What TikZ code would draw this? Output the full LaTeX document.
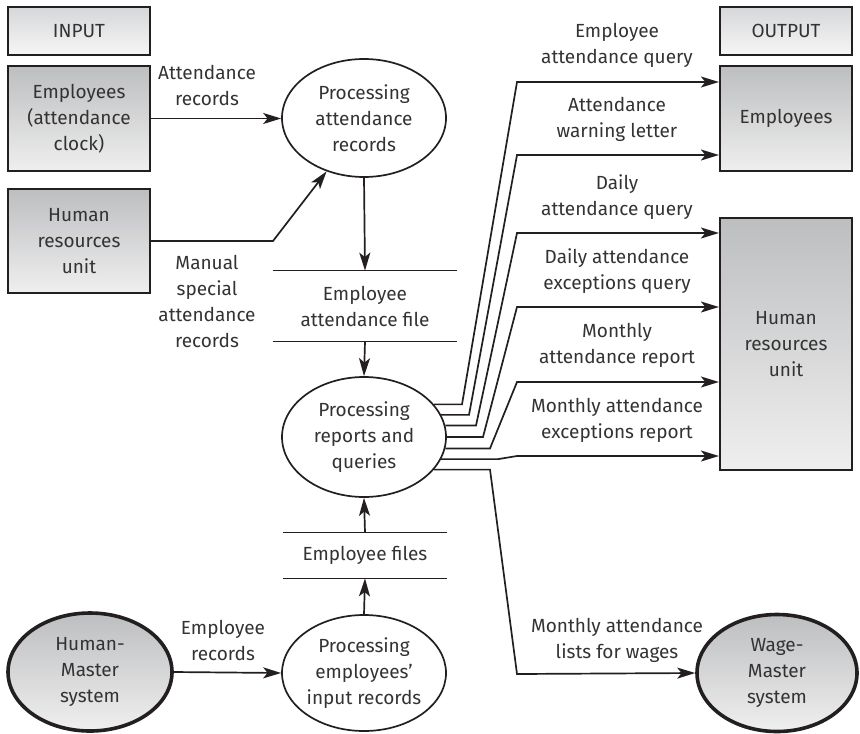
\documentclass[tikz,border=0pt]{standalone}
\usepackage{fontspec}
\setmainfont{Fira Sans}
\usetikzlibrary{arrows.meta, shapes.geometric, calc}
\definecolor{trait}{HTML}{231F20}
\definecolor{texte}{HTML}{333333}
\definecolor{grisfonce}{HTML}{BDBEC0}
\definecolor{grisclair}{HTML}{EFEFEF}
\definecolor{grispale}{HTML}{D6D7D9}
\definecolor{blanccasse}{HTML}{F6F6F6}
\tikzset{
  bloc/.style={rectangle, draw=trait, line width=1.1pt, top color=grisfonce,
    bottom color=grisclair, text=texte, align=center, inner sep=0pt},
  titre/.style={bloc, top color=grispale, bottom color=blanccasse,
    minimum height=24pt},
  processus/.style={ellipse, draw=trait, line width=0.85pt, fill=white,
    text=texte, align=center, inner sep=0pt, minimum width=82pt,
    minimum height=60pt},
  maitre/.style={ellipse, draw=trait, line width=1.8pt, top color=grisfonce,
    bottom color=grisclair, text=texte, align=center, inner sep=0pt,
    minimum width=82pt, minimum height=59pt},
  stock/.style={text=texte, align=center, inner sep=0pt},
  ligne/.style={line width=0.85pt, color=trait},
  fleche/.style={-{Stealth[length=9pt, width=5.5pt, inset=2.2pt]},
    line width=0.85pt, color=trait},
  etiquette/.style={text=texte, align=center, inner sep=0pt}
}

\begin{document}
\begin{tikzpicture}[x=0.5pt, y=-0.5pt, font=\fontsize{9.5}{13}\selectfont]
    \useasboundingbox (0,0) rectangle (860,733);

    % entrees
    \node[titre, minimum width=71pt] (input) at (79,31) {INPUT};
    \node[bloc, minimum width=71pt, minimum height=52.5pt] (empin) at (79,118.5)
      {Employees\\(attendance\\clock)};
    \node[bloc, minimum width=71pt, minimum height=52pt] (hrin) at (79,241)
      {Human\\resources\\unit};

    % sorties
    \node[titre, minimum width=66pt] (output) at (786,31) {OUTPUT};
    \node[bloc, minimum width=66pt, minimum height=52.5pt] (empout) at (786,118.5)
      {Employees};
    \node[bloc, minimum width=66pt, minimum height=126pt] (hrout) at (786,344)
      {Human\\resources\\unit};

    % processus et fichiers
    \node[processus, minimum height=59pt] (p1) at (364,118)
      {Processing\\attendance\\records};
    \node[stock, minimum width=92pt, minimum height=35pt] (f1) at (365,306)
      {Employee\\attendance file};
    \node[processus] (p2) at (364,437) {Processing\\reports and\\queries};
    \node[stock, minimum width=82pt, minimum height=22.5pt] (f2) at (365,555.5)
      {Employee files};
    \node[processus, minimum height=58pt] (p3) at (364,673)
      {Processing\\employees’\\input records};
    \node[maitre] (hm) at (90,672) {Human-\\Master\\system};
    \node[maitre, minimum width=80pt, minimum height=58.5pt] (wm) at (777,673)
      {Wage-\\Master\\system};

    \draw[ligne] (f1.north west) -- (f1.north east);
    \draw[ligne] (f1.south west) -- (f1.south east);
    \draw[ligne] (f2.north west) -- (f2.north east);
    \draw[ligne] (f2.south west) -- (f2.south east);

    % etiquettes
    \node[etiquette] (l-att) at (207,85) {Attendance\\records};
    \node[etiquette] (l-man) at (207,301) {Manual\\special\\attendance\\records};
    \node[etiquette] (l-emp) at (223,640) {Employee\\records};
    \node[etiquette] (l-wage) at (617,640) {Monthly attendance\\lists for wages};
    \node[etiquette] (l-q1) at (617,45.5) {Employee\\attendance query};
    \node[etiquette] (l-q2) at (617,119.5) {Attendance\\warning letter};
    \node[etiquette] (l-q3) at (617,197.5) {Daily\\attendance query};
    \node[etiquette] (l-q4) at (617,271.5) {Daily attendance\\exceptions query};
    \node[etiquette] (l-q5) at (617,345) {Monthly\\attendance report};
    \node[etiquette] (l-q6) at (617,420) {Monthly attendance\\exceptions report};

    % flux
    \draw[fleche] (empin.east) -- (p1.west |- empin.east);
    \draw[fleche] (hrin.east) -- (273,241) -- (p1.235);
    \draw[fleche] (p1.south) -- (f1.north);
    \draw[fleche] (f1.south) -- (p2.north);
    \draw[fleche] (f2.north) -- (p2.south);
    \draw[fleche] (p3.north) -- (f2.south);
    \draw[fleche] (hm.east) -- (p3.west);

    \draw[fleche] (p2.25) -- (p2.25 -| 462,0) -- (517,82) -- (empout.west |- 0,82);
    \draw[fleche] (p2.16) -- (p2.16 -| 469,0) -- (517,155) -- (empout.west |- 0,155);
    \draw[fleche] (p2.8) -- (p2.8 -| 476,0) -- (517,233) -- (hrout.west |- 0,233);
    \draw[fleche] (p2.east) -- (483,437) -- (517,307) -- (hrout.west |- 0,307);
    \draw[fleche] (p2.-8) -- (p2.-8 -| 490,0) -- (517,382) -- (hrout.west |- 0,382);
    \draw[fleche] (p2.-16) -- (p2.-16 -| 498,0) -- (517,456) -- (hrout.west |- 0,456);
    \draw[fleche] (p2.-25) -- (p2.-25 -| 490,0) -- (517,674) -- (wm.west);
  \end{tikzpicture}
\end{document}
